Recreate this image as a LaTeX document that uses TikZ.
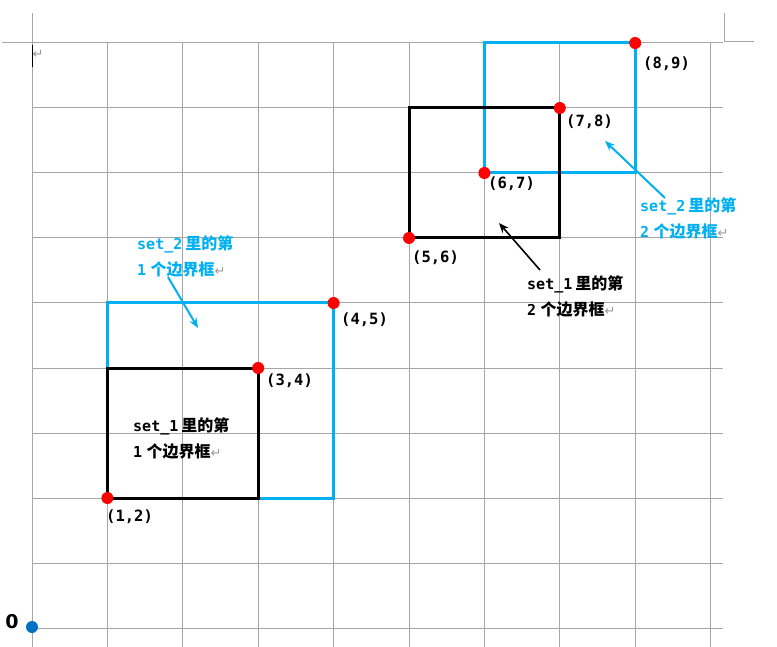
\documentclass[tikz,border=0pt]{standalone}
\usepackage{fontspec}
\setmonofont{DejaVu Sans Mono}
\newfontfamily\cjk{Noto Sans CJK SC}
\newfontfamily\symf{DejaVu Sans}
\usetikzlibrary{arrows.meta}
\definecolor{gridc}{HTML}{A6A6A6}
\definecolor{retc}{HTML}{9A9A9A}
\definecolor{sky}{HTML}{00B0F0}
\definecolor{obl}{HTML}{0070C0}
\newcommand{\ret}{{\symf\mdseries\fontsize{13}{13}\selectfont\color{retc}↵}}
\newcommand{\zh}[1]{{\cjk\bfseries\fontsize{16}{26}\selectfont #1}}
\begin{document}
\begin{tikzpicture}[x=1pt,y=-1pt,
  gridline/.style={gridc,line width=1pt},
  boxk/.style={black,line width=3pt},
  boxb/.style={sky,line width=3pt},
  reddot/.style={circle,fill=red,inner sep=0pt,minimum size=12pt},
  coordlab/.style={anchor=west,inner sep=0pt,font=\fontsize{15.5}{18}\selectfont\ttfamily\bfseries},
  note/.style={anchor=west,inner sep=0pt,align=left,font=\fontsize{15}{26}\selectfont\ttfamily\bfseries},
  barrow/.style={sky,line width=2pt,-{Stealth[length=10pt,width=8pt]}},
  karrow/.style={black,line width=1.6pt,-{Stealth[length=10pt,width=8pt]}}]
\useasboundingbox (0,0) rectangle (777,647);
% grid
\foreach \i in {0,...,9} \draw[gridline] ({32+75.4*\i},43) -- ({32+75.4*\i},647);
\draw[gridline] (32,13) -- (32,43);
\foreach \j in {0,...,9} \draw[gridline] (32,{43+65*\j}) -- (723,{43+65*\j});
\draw[gridline] (2,43) -- (32,43);
\draw[gridline] (724,13) -- (724,42) -- (754,42);
% cursor and mark
\draw[black,line width=1.5pt] (32.5,45) -- (32.5,67);
\node[inner sep=0pt] (retmark) at (38,54) {\ret};
% points
\coordinate (p12) at (107.4,498);
\coordinate (p34) at (258.2,368);
\coordinate (p45) at (333.6,303);
\coordinate (p56) at (409,238);
\coordinate (p67) at (484.4,173);
\coordinate (p78) at (559.8,108);
\coordinate (p89) at (635.2,43);
% boxes
\draw[boxb] (p12) rectangle (p45);
\draw[boxk] (p12) rectangle (p34);
\draw[boxb] (p67) rectangle (p89);
\draw[boxk] (p56) rectangle (p78);
% dots
\foreach \p in {p12,p34,p45,p56,p67,p78,p89} \node[reddot] (d\p) at (\p) {};
\node[circle,fill=obl,inner sep=0pt,minimum size=12pt] (origin) at (32,627) {};
\node[inner sep=0pt,font=\symf\bfseries\fontsize{19}{19}\selectfont] (zero) at (12,622) {0};
% coordinate labels
\node[coordlab] (l89) at (643,64) {(8,9)};
\node[coordlab] (l78) at (566,122) {(7,8)};
\node[coordlab] (l67) at (488,184) {(6,7)};
\node[coordlab] (l56) at (412,258) {(5,6)};
\node[coordlab] (l45) at (341,320) {(4,5)};
\node[coordlab] (l34) at (266,381) {(3,4)};
\node[coordlab] (l12) at (106,517) {(1,2)};
% notes
\node[note,sky] (n21) at (137,256) {set\_2\hspace{0.2em}\zh{里的第}\\1\hspace{0.3em}\zh{个边界框}\ret};
\node[note] (n11) at (133,438.5) {set\_1\hspace{0.2em}\zh{里的第}\\1\hspace{0.3em}\zh{个边界框}\ret};
\node[note] (n12) at (527,296) {set\_1\hspace{0.2em}\zh{里的第}\\2\hspace{0.3em}\zh{个边界框}\ret};
\node[note,sky] (n22) at (640,218) {set\_2\hspace{0.2em}\zh{里的第}\\2\hspace{0.3em}\zh{个边界框}\ret};
% arrows
\coordinate (a1s) at (168,277);
\coordinate (a1e) at (198,328);
\coordinate (a2s) at (540,270);
\coordinate (a2e) at (499,223);
\coordinate (a3s) at (665,198);
\coordinate (a3e) at (605,141);
\draw[barrow] (a1s) -- (a1e);
\draw[karrow] (a2s) -- (a2e);
\draw[barrow] (a3s) -- (a3e);
\end{tikzpicture}
\end{document}
